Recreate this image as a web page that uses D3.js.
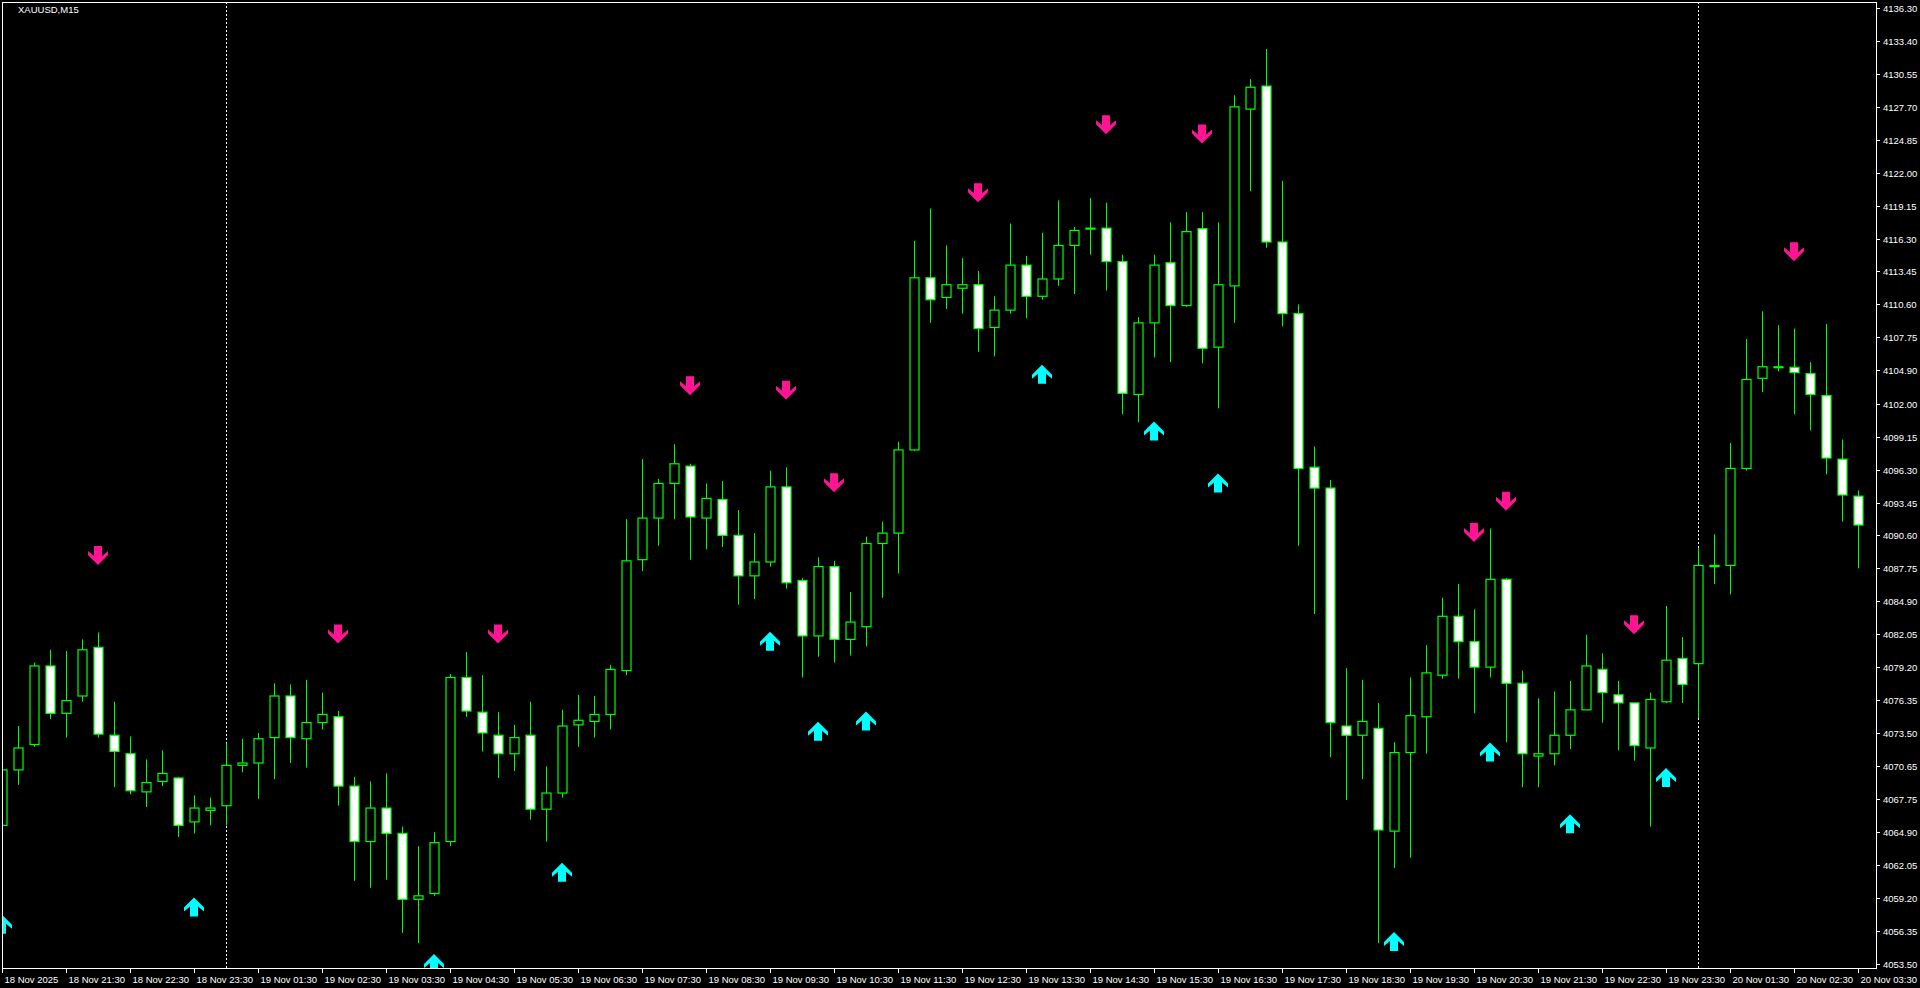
<!DOCTYPE html>
<html>
<head>
<meta charset="utf-8">
<script src="https://cdn.jsdelivr.net/npm/d3@7"></script>
<style>
  html, body { margin:0; padding:0; background:#000; overflow:hidden; }
  svg { display:block; }
  text { font-family:"Liberation Sans", Arial, sans-serif; fill:#fff; }
</style>
</head>
<body>
<svg id="chart" width="1920" height="988"></svg>
<script>
const SYMBOL = "XAUUSD,M15";

// OHLC per 15 min candle, 18 Nov 20:30 .. 20 Nov 03:30 (break at 00:00-01:00)
const opens = [4065.5,4070.3,4072.5,4079.3,4075.2,4076.7,4080.9,4073.3,4071.7,4068.4,4069.3,4069.6,4065.8,4066.8,4067.2,4070.7,4070.9,4073.1,4076.7,4073.0,
  4074.4,4074.9,4068.9,4064.1,4067.0,4064.8,4059.1,4059.6,4064.1,4078.3,4075.3,4073.3,4071.7,4073.3,4066.9,4068.3,4074.2,4074.5,4075.1,4078.9,
  4088.5,4092.1,4095.1,4096.6,4092.1,4093.7,4090.6,4087.1,4088.3,4094.8,4086.7,4081.9,4087.9,4081.6,4082.7,4089.9,4090.8,4098.0,4112.9,4111.2,
  4112.0,4112.3,4108.6,4110.1,4114.0,4111.3,4112.8,4115.7,4117.15,4117.2,4114.3,4102.8,4109.0,4114.2,4110.5,4117.15,4106.9,4112.2,4127.5,4129.5,
  4116.0,4109.8,4096.5,4094.7,4074.1,4073.3,4073.9,4065.0,4071.8,4074.9,4078.5,4083.6,4081.4,4079.2,4086.8,4077.8,4071.5,4071.7,4073.3,4075.5,
  4079.0,4076.8,4076.1,4072.2,4076.2,4079.95,4079.5,4087.9,4088.0,4096.4,4104.2,4105.15,4105.15,4104.6,4102.7,4097.2,4094.0];
const highs = [4072.6,4074.1,4079.6,4080.7,4080.6,4081.6,4082.2,4076.2,4073.2,4071.2,4072.0,4069.7,4068.1,4067.9,4072.6,4073.0,4073.5,4077.8,4077.7,4078.1,
  4077.0,4075.4,4069.7,4069.3,4070.0,4065.4,4063.7,4064.9,4078.6,4080.5,4078.5,4075.3,4074.2,4076.2,4070.6,4075.5,4076.8,4076.7,4079.4,4092.0,
  4097.2,4095.5,4098.5,4096.8,4095.1,4095.3,4092.8,4090.8,4096.2,4096.5,4086.9,4088.7,4088.4,4085.7,4090.5,4091.8,4098.7,4116.1,4118.9,4115.7,
  4114.6,4113.5,4111.3,4117.6,4114.8,4116.8,4119.6,4117.3,4119.8,4119.4,4114.9,4109.5,4114.9,4117.7,4118.6,4118.6,4117.7,4128.7,4130.1,4132.7,
  4121.3,4110.6,4098.3,4095.4,4079.1,4078.1,4076.1,4072.7,4078.3,4081.1,4085.2,4086.4,4084.2,4091.2,4086.9,4078.9,4076.5,4077.1,4078.0,4082.0,
  4080.4,4078.0,4076.1,4077.0,4084.5,4081.8,4089.5,4090.7,4098.6,4107.6,4110.0,4108.8,4108.5,4105.6,4108.9,4098.9,4094.5];
const lows = [4063.3,4069.0,4072.3,4074.7,4073.1,4076.2,4073.1,4068.8,4068.2,4067.1,4068.9,4064.5,4064.8,4065.5,4065.5,4070.1,4067.8,4069.5,4070.9,4070.5,
  4073.8,4067.2,4060.7,4060.1,4060.8,4056.2,4055.3,4059.4,4063.7,4074.9,4071.9,4069.6,4070.2,4066.0,4064.1,4067.9,4072.3,4073.1,4073.8,4078.5,
  4087.5,4089.7,4092.0,4088.5,4089.4,4089.6,4084.6,4085.1,4087.9,4086.0,4078.3,4080.1,4079.6,4080.2,4081.0,4085.2,4087.3,4097.9,4109.0,4110.2,
  4109.8,4106.5,4106.1,4109.8,4109.4,4111.0,4112.2,4111.5,4114.9,4111.8,4101.1,4100.4,4106.0,4105.6,4110.4,4105.5,4101.6,4109.0,4120.4,4115.5,
  4108.7,4089.7,4083.8,4071.4,4067.7,4069.5,4055.3,4061.8,4062.7,4071.7,4078.2,4078.2,4075.2,4078.3,4072.7,4068.8,4068.8,4070.7,4072.1,4075.5,
  4074.4,4072.0,4071.1,4065.4,4076.1,4076.1,4074.8,4086.4,4085.5,4096.2,4103.0,4104.8,4101.1,4099.7,4095.9,4091.8,4087.75];
const closes = [4070.3,4072.2,4079.3,4075.2,4076.3,4080.7,4073.4,4071.9,4068.5,4069.2,4070.0,4065.5,4067.0,4067.0,4070.7,4070.9,4073.0,4076.7,4073.1,4074.4,
  4075.1,4068.9,4064.1,4067.0,4064.8,4059.1,4059.4,4064.0,4078.3,4075.4,4073.5,4071.7,4073.1,4066.9,4068.3,4074.1,4074.6,4075.1,4079.0,4088.4,
  4092.1,4095.1,4096.8,4092.2,4093.8,4090.6,4087.1,4088.3,4094.8,4086.5,4081.9,4087.9,4081.6,4083.1,4089.9,4090.8,4098.0,4112.9,4111.0,4112.3,
  4112.3,4108.5,4110.1,4114.0,4111.3,4112.8,4115.7,4117.0,4117.2,4114.3,4102.9,4109.0,4114.0,4110.5,4116.9,4106.8,4112.3,4127.7,4129.4,4116.0,
  4109.8,4096.4,4094.7,4074.4,4073.3,4074.5,4065.1,4071.8,4075.0,4078.7,4083.6,4081.4,4079.2,4086.8,4077.8,4071.7,4071.7,4073.3,4075.5,4079.3,
  4077.0,4076.1,4072.4,4076.4,4079.8,4077.7,4088.0,4088.0,4096.4,4104.1,4105.2,4105.2,4104.7,4102.8,4097.3,4094.1,4091.5];

// signal arrows: candle index and price of arrow centre
const sellIdx   = [6,21,31,43,49,52,61,69,75,92,94,102,112];
const sellPrice = [4088.9,4082.1,4082.1,4103.6,4103.2,4095.2,4120.3,4126.2,4125.4,4090.9,4093.6,4082.9,4115.2];
const buyIdx    = [0,12,27,35,48,51,54,65,72,76,87,93,98,104];
const buyPrice  = [4056.9,4058.4,4053.5,4061.4,4081.4,4073.6,4074.5,4104.5,4099.6,4095.1,4055.4,4071.8,4065.6,4069.6];

const timeLabels = ["18 Nov 2025","18 Nov 21:30","18 Nov 22:30","18 Nov 23:30","19 Nov 01:30","19 Nov 02:30","19 Nov 03:30","19 Nov 04:30",
  "19 Nov 05:30","19 Nov 06:30","19 Nov 07:30","19 Nov 08:30","19 Nov 09:30","19 Nov 10:30","19 Nov 11:30","19 Nov 12:30","19 Nov 13:30",
  "19 Nov 14:30","19 Nov 15:30","19 Nov 16:30","19 Nov 17:30","19 Nov 18:30","19 Nov 19:30","19 Nov 20:30","19 Nov 21:30","19 Nov 22:30",
  "19 Nov 23:30","20 Nov 01:30","20 Nov 02:30","20 Nov 03:30"];
const priceLabels = ["4053.50","4056.35","4059.20","4062.05","4064.90","4067.75","4070.65","4073.50","4076.35","4079.20","4082.05","4084.90",
  "4087.75","4090.60","4093.45","4096.30","4099.15","4102.00","4104.90","4107.75","4110.60","4113.45","4116.30","4119.15","4122.00","4124.85",
  "4127.70","4130.55","4133.40","4136.30"];
const daySeparators = [14, 106];

const W = 1920, H = 988;
const plot = { left:2, right:1876, top:2, bottom:968 };
const GREEN = "#00ff00";

const svg = d3.select("#chart");
svg.append("rect").attr("width", W).attr("height", H).attr("fill", "#000");

const x = d3.scaleLinear().domain([0, 1]).range([2, 18]);
const y = d3.scaleLinear().domain([+priceLabels[0], +priceLabels[priceLabels.length - 1]]).range([964, 7.5]);

const g = svg.append("g");
g.append("defs").append("clipPath").attr("id", "clip")
  .append("rect").attr("x", plot.left).attr("y", plot.top)
  .attr("width", plot.right - plot.left).attr("height", plot.bottom - plot.top);
const inner = g.append("g").attr("clip-path", "url(#clip)");

//day separators
inner.selectAll("line.sep").data(daySeparators).enter().append("line")
  .attr("x1", d => x(d) + 0.5).attr("x2", d => x(d) + 0.5)
  .attr("y1", plot.top).attr("y2", plot.bottom)
  .attr("stroke", "#fff").attr("stroke-dasharray", "2,2");

//candles
const candles = d3.range(opens.length).map(i => ({ i, o:opens[i], h:highs[i], l:lows[i], c:closes[i] }));
const cg = inner.selectAll("g.candle").data(candles).enter().append("g").attr("class", "candle");
cg.append("line")
  .attr("x1", d => Math.round(x(d.i)) + 0.5).attr("x2", d => Math.round(x(d.i)) + 0.5)
  .attr("y1", d => y(d.h)).attr("y2", d => y(d.l))
  .attr("stroke", GREEN).attr("stroke-width", 1);
cg.append("rect")
  .attr("x", d => Math.round(x(d.i)) - 4)
  .attr("y", d => y(Math.max(d.o, d.c)))
  .attr("width", 9)
  .attr("height", d => Math.max(1, Math.abs(y(d.o) - y(d.c))))
  .attr("fill", d => d.c >= d.o ? "#000" : "#fff")
  .attr("stroke", GREEN).attr("stroke-width", 1.2);

//arrows
const upPath = "M0,-10 L10,0 L10,4 L4,-1 L4,9 L-4,9 L-4,-1 L-10,4 L-10,0 Z";
inner.selectAll("path.buy").data(buyIdx).enter().append("path")
  .attr("d", upPath)
  .attr("transform", (d, k) => `translate(${x(d)},${y(buyPrice[k])})`)
  .attr("fill", "#00ffff");
inner.selectAll("path.sell").data(sellIdx).enter().append("path")
  .attr("d", upPath)
  .attr("transform", (d, k) => `translate(${x(d)},${y(sellPrice[k])}) rotate(180)`)
  .attr("fill", "#ff1493");

//frame
g.append("rect").attr("x", plot.left + 0.5).attr("y", plot.top + 0.5)
  .attr("width", plot.right - plot.left).attr("height", plot.bottom - plot.top)
  .attr("fill", "none").attr("stroke", "#fff");

//price axis
const pa = g.selectAll("g.ptick").data(priceLabels).enter().append("g")
  .attr("transform", d => `translate(${plot.right},${Math.round(y(+d)) + 0.5})`);
pa.append("line").attr("x1", 0).attr("x2", 4).attr("stroke", "#fff");
pa.append("text").attr("x", 7).attr("dy", "0.35em").attr("font-size", 9.5).text(d => d);

//time axis
const ta = g.selectAll("g.ttick").data(timeLabels).enter().append("g")
  .attr("transform", (d, k) => `translate(${Math.round(x(k * 4)) + 0.5},${plot.bottom})`);
ta.append("line").attr("y1", 0).attr("y2", 5).attr("stroke", "#fff");
ta.append("text").attr("x", 2).attr("y", 15).attr("font-size", 9.5).text(d => d);

//symbol
g.append("text").attr("x", 18).attr("y", 13).attr("font-size", 9.5).text(SYMBOL);
</script>
</body>
</html>
